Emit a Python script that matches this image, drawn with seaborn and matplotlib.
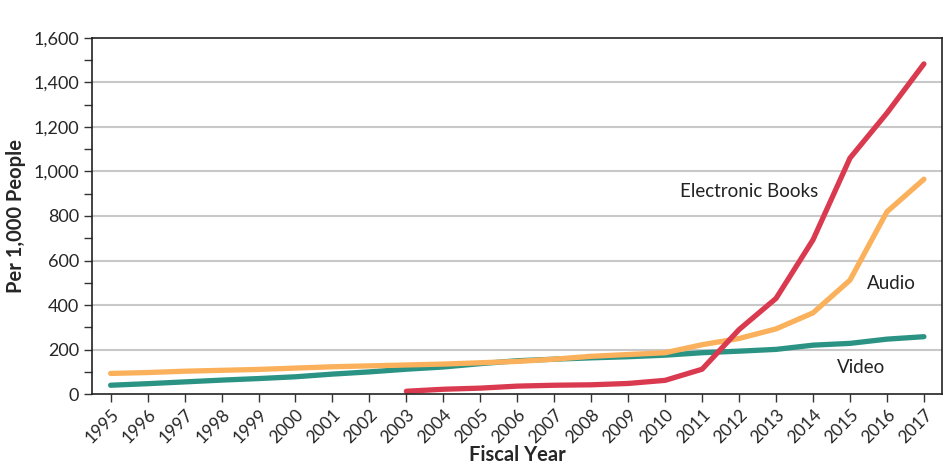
import numpy as np
import pandas as pd
import matplotlib
matplotlib.use("Agg")
import matplotlib.pyplot as plt
import seaborn as sns
from matplotlib.ticker import MultipleLocator, FuncFormatter

# data (circulation per 1,000 people)
years = list(range(1995, 2018))
ebooks = [np.nan] * 8 + [13, 22, 27, 36, 40, 42, 48, 62, 112, 290, 430, 693, 1060, 1262, 1483]
audio = [93, 97, 103, 107, 111, 117, 123, 127, 131, 135, 141, 147, 157, 170, 178, 186,
         222, 250, 293, 365, 512, 819, 965]
video = [40, 47, 55, 63, 70, 78, 90, 100, 112, 122, 137, 150, 157, 163, 168, 175,
         186, 193, 201, 220, 228, 247, 258]

colors = {"Electronic Books": "#DA3A4F", "Audio": "#FBB15B", "Video": "#2B9384"}

df = pd.concat([
    pd.DataFrame({"year": years, "value": video, "series": "Video"}),
    pd.DataFrame({"year": years, "value": audio, "series": "Audio"}),
    pd.DataFrame({"year": years, "value": ebooks, "series": "Electronic Books"}),
])

sns.set_style("white")
plt.rcParams["font.family"] = ["Lato", "DejaVu Sans"]

fig = plt.figure(figsize=(9.5, 4.67), dpi=100)
ax = fig.add_axes([0.097, 0.156, 0.895, 0.763])

# horizontal grid
for y in range(200, 1600, 200):
    ax.axhline(y, color="#c8c8c8", lw=1.5, zorder=0)

sns.lineplot(data=df.dropna(), x="year", y="value", hue="series", palette=colors,
             lw=3.8, legend=False, ax=ax, solid_capstyle="round", sort=True)

ax.set_xlim(1994.5, 2017.5)
ax.set_ylim(0, 1600)
ax.set_xticks(years)
ax.set_xticklabels([str(y) for y in years], rotation=45, ha="right",
                   rotation_mode="anchor", fontsize=12.5)
ax.yaxis.set_major_locator(MultipleLocator(200))
ax.yaxis.set_minor_locator(MultipleLocator(100))
ax.yaxis.set_major_formatter(FuncFormatter(lambda v, p: f"{int(v):,}"))
ax.tick_params(axis="y", labelsize=13)
ax.tick_params(which="both", direction="out", length=6, width=1, color="#333333",
               left=True, bottom=True)
ax.tick_params(axis="x", pad=3)

for s in ax.spines.values():
    s.set_color("#222222")
    s.set_linewidth(1.2)

ax.set_xlabel("Fiscal Year", fontsize=14.5, fontweight="bold", labelpad=-1)
ax.set_ylabel("Per 1,000 People", fontsize=14.5, fontweight="bold", labelpad=5)

ax.text(2010.4, 908, "Electronic Books", fontsize=13.5, va="center", color="#222222")
ax.text(2015.45, 499, "Audio", fontsize=13.5, va="center", color="#222222")
ax.text(2014.65, 121, "Video", fontsize=13.5, va="center", color="#222222")

fig.savefig("out.png", dpi=100)
